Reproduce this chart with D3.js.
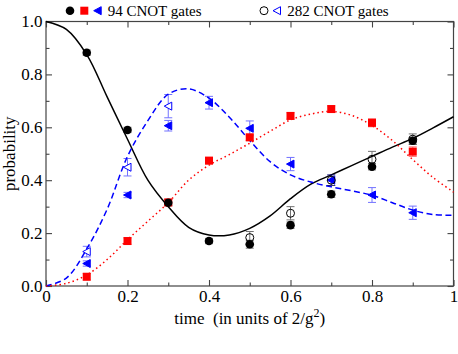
<!DOCTYPE html>
<html>
<head>
<meta charset="utf-8">
<script src="https://cdn.jsdelivr.net/npm/d3@7"></script>
<style>
  body { margin: 0; background: #fff; }
  svg { display: block; font-family: "Liberation Serif", "DejaVu Serif", serif; }
</style>
</head>
<body>
<svg width="458" height="354"></svg>
<script>
// measured points, 94 CNOT gates
const times = [0.1, 0.2, 0.3, 0.4, 0.5, 0.6, 0.7, 0.8, 0.9]
const black94 = [0.882, 0.59, 0.315, 0.17, 0.158, 0.23, 0.347, 0.451, 0.549]
const black94Err = [0.01, 0.01, 0.012, 0.01, 0.015, 0.012, 0.012, 0.012, 0.012]
const red94 = [0.035, 0.17, 0.316, 0.474, 0.562, 0.643, 0.669, 0.617, 0.508]
const red94Err = [0.012, 0.012, 0.012, 0.012, 0.012, 0.012, 0.012, 0.015, 0.018]
const blue94 = [0.085, 0.344, 0.606, 0.693, 0.596, 0.461, 0.40, 0.344, 0.277]
const blue94Err = [0.01, 0.01, 0.02, 0.024, 0.028, 0.025, 0.02, 0.028, 0.025]

// measured points, 282 CNOT gates
const timesTri282 = [0.1, 0.2, 0.3]
const blue282 = [0.13, 0.449, 0.68]
const blue282Err = [0.02, 0.033, 0.044]
const timesCirc282 = [0.5, 0.6, 0.7, 0.8, 0.9]
const black282 = [0.183, 0.275, 0.40, 0.479, 0.555]
const black282Err = [0.023, 0.025, 0.02, 0.03, 0.02]

// theory curves
const curveT = [0, 0.05, 0.1, 0.15, 0.2, 0.25, 0.3, 0.35, 0.4, 0.45, 0.5,
                0.55, 0.6, 0.65, 0.7, 0.75, 0.8, 0.85, 0.9, 0.95, 1]
const blackCurve = [1.0, 0.97, 0.875, 0.715, 0.555, 0.40, 0.30, 0.222, 0.193, 0.193, 0.218,
                    0.265, 0.33, 0.385, 0.42, 0.455, 0.49, 0.525, 0.558, 0.598, 0.64]
const blueCurve = [0, 0.03, 0.14, 0.29, 0.49, 0.625, 0.725, 0.745, 0.71, 0.638, 0.55,
                   0.47, 0.42, 0.393, 0.375, 0.36, 0.343, 0.315, 0.287, 0.27, 0.268]
const redCurve = [0, 0.01, 0.042, 0.1, 0.175, 0.245, 0.315, 0.40, 0.457, 0.497, 0.54,
                  0.585, 0.628, 0.65, 0.66, 0.645, 0.607, 0.55, 0.478, 0.41, 0.355]

const xMajor = [0, 0.2, 0.4, 0.6, 0.8, 1]
const xMinor = [0.1, 0.3, 0.5, 0.7, 0.9]
const yMajor = [0, 0.2, 0.4, 0.6, 0.8, 1]
const yMinor = [0.1, 0.3, 0.5, 0.7, 0.9]

const pLeft = 46, pRight = 453.5, pTop = 21.5, pBottom = 286
const axisColor = "#444"

const svg = d3.select("svg")
const x = d3.scaleLinear().domain([0, 1]).range([pLeft, pRight])
const y = d3.scaleLinear().domain([0, 1]).range([pBottom, pTop])

// frame
svg.append("rect")
  .attr("x", pLeft).attr("y", pTop)
  .attr("width", pRight - pLeft).attr("height", pBottom - pTop)
  .attr("fill", "none").attr("stroke", axisColor).attr("stroke-width", 1.2)

function styleAxis(g) {
  g.select(".domain").remove()
  g.selectAll("line").attr("stroke", axisColor).attr("stroke-width", 1.1)
  g.selectAll("text").attr("font-size", 17).attr("fill", "#000")
    .attr("font-family", "Liberation Serif, serif")
}

const fmtX = d => (d === 0 || d === 1) ? String(d) : d.toFixed(1)

svg.append("g").attr("transform", `translate(0,${pBottom})`)
  .call(d3.axisBottom(x).tickValues(xMajor).tickSize(-6).tickPadding(3.5).tickFormat(fmtX))
  .call(styleAxis)
svg.append("g").attr("transform", `translate(0,${pBottom})`)
  .call(d3.axisBottom(x).tickValues(xMinor).tickSize(-3.5).tickFormat(""))
  .call(styleAxis)
svg.append("g").attr("transform", `translate(0,${pTop})`)
  .call(d3.axisTop(x).tickValues(xMajor).tickSize(-6).tickFormat(""))
  .call(styleAxis)
svg.append("g").attr("transform", `translate(0,${pTop})`)
  .call(d3.axisTop(x).tickValues(xMinor).tickSize(-3.5).tickFormat(""))
  .call(styleAxis)

svg.append("g").attr("transform", `translate(${pLeft},0)`)
  .call(d3.axisLeft(y).tickValues(yMajor).tickSize(-6).tickPadding(3.5).tickFormat(d3.format(".1f")))
  .call(styleAxis)
svg.append("g").attr("transform", `translate(${pLeft},0)`)
  .call(d3.axisLeft(y).tickValues(yMinor).tickSize(-3.5).tickFormat(""))
  .call(styleAxis)
svg.append("g").attr("transform", `translate(${pRight},0)`)
  .call(d3.axisRight(y).tickValues(yMajor).tickSize(-6).tickFormat(""))
  .call(styleAxis)
svg.append("g").attr("transform", `translate(${pRight},0)`)
  .call(d3.axisRight(y).tickValues(yMinor).tickSize(-3.5).tickFormat(""))
  .call(styleAxis)

// axis titles
const xt = svg.append("text")
  .attr("x", (pLeft + pRight) / 2).attr("y", 324)
  .attr("text-anchor", "middle").attr("font-size", 17)
  .attr("xml:space", "preserve")
xt.append("tspan").text("time  (in units of 2/g")
xt.append("tspan").attr("font-size", 12).attr("dy", -7).text("2")
xt.append("tspan").attr("dy", 7).text(")")

svg.append("text")
  .attr("transform", `translate(15,${(pTop + pBottom) / 2}) rotate(-90)`)
  .attr("text-anchor", "middle").attr("font-size", 17)
  .text("probability")

// theory curves
function drawCurve(vals, color, dash, width) {
  const line = d3.line()
    .x((d, i) => x(curveT[i]))
    .y(d => y(d))
    .curve(d3.curveCatmullRom.alpha(0.5))
  svg.append("path").datum(vals)
    .attr("d", line)
    .attr("fill", "none")
    .attr("stroke", color)
    .attr("stroke-width", width)
    .attr("stroke-dasharray", dash)
}
drawCurve(blackCurve, "#000", null, 1.5)
drawCurve(blueCurve, "#0000ff", "6,3.5", 1.5)
drawCurve(redCurve, "#ff0000", "1.5,3", 1.5)

// error bars
function errorBars(ts, vals, errs, color) {
  const g = svg.append("g").attr("stroke", color).attr("stroke-width", 1).attr("opacity", 0.55)
  ts.forEach((t, i) => {
    const cx = x(t), y1 = y(vals[i] + errs[i]), y2 = y(vals[i] - errs[i])
    g.append("line").attr("x1", cx).attr("x2", cx).attr("y1", y1).attr("y2", y2)
    g.append("line").attr("x1", cx - 4).attr("x2", cx + 4).attr("y1", y1).attr("y2", y1)
    g.append("line").attr("x1", cx - 4).attr("x2", cx + 4).attr("y1", y2).attr("y2", y2)
  })
}
errorBars(times, black94, black94Err, "#000")
errorBars(times, red94, red94Err, "#ff0000")
errorBars(times, blue94, blue94Err, "#0000ff")
errorBars(timesTri282, blue282, blue282Err, "#0000ff")
errorBars(timesCirc282, black282, black282Err, "#000")

// markers
const triPath = "M-4,0L3.5,-4L3.5,4Z"

function triangles(ts, vals, filled) {
  svg.append("g").selectAll("path").data(ts).join("path")
    .attr("d", triPath)
    .attr("transform", (t, i) => `translate(${x(t)},${y(vals[i])})`)
    .attr("fill", filled ? "#0000ff" : "#fff")
    .attr("stroke", "#0000ff").attr("stroke-width", 1)
}
triangles(times, blue94, true)
triangles(timesTri282, blue282, false)

svg.append("g").selectAll("rect").data(times).join("rect")
  .attr("x", t => x(t) - 4).attr("y", (t, i) => y(red94[i]) - 4)
  .attr("width", 8).attr("height", 8)
  .attr("fill", "#ff0000")

svg.append("g").selectAll("circle").data(timesCirc282).join("circle")
  .attr("cx", t => x(t)).attr("cy", (t, i) => y(black282[i]))
  .attr("r", 4).attr("fill", "none").attr("stroke", "#000").attr("stroke-width", 1)

svg.append("g").selectAll("circle").data(times).join("circle")
  .attr("cx", t => x(t)).attr("cy", (t, i) => y(black94[i]))
  .attr("r", 4.3).attr("fill", "#000")

// legend
const leg = svg.append("g")
leg.append("circle").attr("cx", 70).attr("cy", 10.7).attr("r", 4.3).attr("fill", "#000")
leg.append("rect").attr("x", 80.3).attr("y", 6.7).attr("width", 8).attr("height", 8).attr("fill", "#ff0000")
leg.append("path").attr("d", triPath).attr("transform", "translate(97.7,10.7)").attr("fill", "#0000ff").attr("stroke", "#0000ff")
leg.append("text").attr("x", 107.7).attr("y", 15.5).attr("font-size", 15).text("94 CNOT gates")
leg.append("circle").attr("cx", 264).attr("cy", 10.7).attr("r", 4).attr("fill", "none").attr("stroke", "#000")
leg.append("path").attr("d", triPath).attr("transform", "translate(277,10.7)").attr("fill", "#fff").attr("stroke", "#0000ff")
leg.append("text").attr("x", 287.3).attr("y", 15.5).attr("font-size", 15).text("282 CNOT gates")
</script>
</body>
</html>
